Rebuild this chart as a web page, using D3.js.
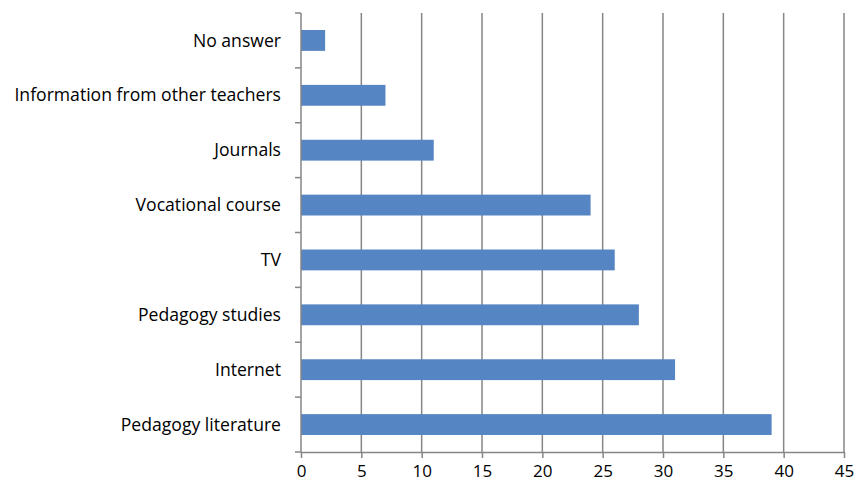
<!DOCTYPE html>
<html><head><meta charset="utf-8">
<script src="https://cdn.jsdelivr.net/npm/d3@7"></script>
<style>body{margin:0;background:#fff}svg{display:block}</style>
</head><body>
<svg id="c" width="855" height="486"></svg>
<script>
const categories = ["No answer","Information from other teachers","Journals","Vocational course","TV","Pedagogy studies","Internet","Pedagogy literature"];
const values = [2,7,11,24,26,28,31,39];
const xTicks = [0,5,10,15,20,25,30,35,40,45];

(function(){
const svg = d3.select("#c");
const mL = 301, mR = 844, mT = 13, mB = 452;
const x = d3.scaleLinear().domain([0,45]).range([mL,mR]);
const y = d3.scaleBand().domain(categories).range([mT,mB]).paddingInner(0.62).paddingOuter(0.31);
const font = "'Open Sans', sans-serif";
const grid = "#868686";

svg.append("g").selectAll("line").data(xTicks.slice(1)).join("line")
  .attr("x1",d=>x(d)).attr("x2",d=>x(d)).attr("y1",mT).attr("y2",mB)
  .attr("stroke",grid).attr("stroke-width",1.5);

svg.append("g").selectAll("rect").data(values).join("rect")
  .attr("x",x(0)).attr("y",(d,i)=>y(categories[i]))
  .attr("width",d=>x(d)-x(0)).attr("height",y.bandwidth())
  .attr("fill","#5585C2");

const xa = svg.append("g").attr("transform",`translate(0,${mB})`)
  .call(d3.axisBottom(x).tickValues(xTicks).tickSize(6).tickSizeOuter(0).tickPadding(7));
xa.select(".domain").attr("stroke",grid).attr("stroke-width",1.5);
xa.selectAll(".tick line").attr("stroke",grid).attr("stroke-width",1.5);
xa.selectAll("text").attr("font-family",font).attr("font-size",17).attr("fill","#000");

const ya = svg.append("g");
ya.append("line").attr("x1",mL).attr("x2",mL).attr("y1",mT).attr("y2",mB)
  .attr("stroke",grid).attr("stroke-width",1.5);
const bounds = d3.range(categories.length+1).map(i=>mT + i*(mB-mT)/categories.length);
ya.selectAll("line.t").data(bounds).join("line").attr("class","t")
  .attr("x1",mL-6).attr("x2",mL).attr("y1",d=>d).attr("y2",d=>d)
  .attr("stroke",grid).attr("stroke-width",1.5);
ya.selectAll("text").data(categories).join("text")
  .attr("x",281).attr("y",d=>y(d)+y.bandwidth()/2)
  .attr("dy","0.35em").attr("text-anchor","end")
  .attr("font-family",font).attr("font-size",17.6).attr("fill","#000")
  .text(d=>d);
})();
</script>
</body></html>
